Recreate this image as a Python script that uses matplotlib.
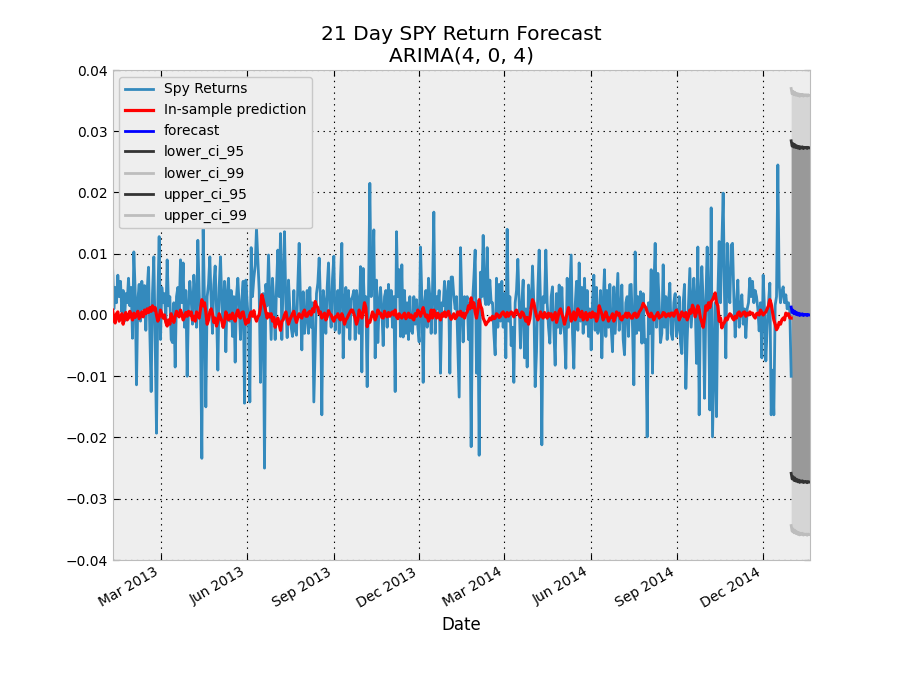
import numpy as np
import pandas as pd
import matplotlib
matplotlib.use('Agg')
import matplotlib.pyplot as plt
import matplotlib.dates as mdates

# daily SPY returns, in basis points (1e-4)
returns_bp = [
    82, 10, 45, 20, 65, 30, 55, 5, 40, -10, 35, 20, 60, 15, 45,
    -38, 103, 40, -114, 25, 50, -10, 55, 10, 48, -25, 40, 78, -30, -125,
    35, 95, -40, -193, 25, 128, -40, 45, 20, 35, -10, 90, 15, 30, -40,
    -45, 20, -85, 30, 45, 5, 90, 20, 85, -20, 40, -100, 15, 55, 25,
    -15, 65, 30, -20, 122, 40, -30, -234, 140, 20, -150, 30, 50, 95, 20,
    -30, 50, 80, 10, -90, 45, 95, 20, -20, 55, -60, 35, 60, -10, 40,
    -35, 30, -77, 30, 60, 15, -40, 25, 55, -144, 57, 20, -10, -142, 110,
    30, 60, 80, 142, 90, 40, -110, 20, 35, -250, 50, 15, 98, 30, -40,
    60, 20, -40, 45, 106, 30, 133, -40, 60, 136, 20, -37, 57, 10, -20,
    -35, 40, -25, -33, 50, 117, 20, -57, 38, -30, -5, 40, -30, 45, -20,
    20, -142, -57, 35, 52, 93, 20, -163, 40, 20, -30, 45, 85, 10, -20,
    60, 96, -25, 10, 40, -30, 60, 117, -70, 20, 45, -20, 40, -40, 25,
    30, 40, -40, 40, 20, -30, 79, -93, 76, 10, 30, -117, 30, 215, 30,
    60, 139, -70, 57, -45, 20, 45, 10, -50, 30, 40, -20, 50, 0, 40,
    -20, 30, -125, 136, 30, 74, -35, 82, -36, 40, -30, 20, -40, 30, -25,
    -30, 30, -15, 25, -20, -44, 111, 30, -110, 20, 40, -20, 60, 30, -30,
    40, 168, -30, 30, 10, 40, -95, 20, 15, 55, 0, 30, 55, -95, 62,
    62, 30, 10, 30, -50, -134, 110, 20, -44, 30, 10, 30, -40, 20, -215,
    20, 60, 106, -95, 20, -229, 70, 30, 130, 30, 17, 110, 17, 57, 20,
    20, -30, -65, 60, -20, 50, -10, 55, -20, 35, -70, 140, -10, 30, -50,
    -20, -110, 20, 40, 91, 20, -54, 20, 57, -70, 10, -85, 49, 20, 10,
    80, 20, -117, -60, 40, 106, 20, -212, 30, 20, 106, 20, -20, -46, 30,
    46, -25, -82, 35, -20, 49, -30, 45, -15, -30, -87, 60, -20, 40, 98,
    -30, -87, 15, 55, -25, 85, -10, 45, -30, 60, -15, 40, -35, 10, -57,
    20, 65, -25, 45, -30, -20, 40, -70, 20, 74, -35, 40, -20, 50, -20,
    -60, 46, -30, 20, 68, -25, 1, 49, -40, -65, 20, 30, -35, 49, 50,
    -20, -114, 103, -30, 30, -25, 38, -46, 35, -45, -40, -199, 20, -30, 74,
    -95, 40, 117, -20, 68, 20, -45, -30, 82, -20, 30, -40, 20, 52, -30,
    -40, 20, 35, -35, -20, 30, -45, -63, 20, 50, -120, -40, 20, 76, -20,
    20, 60, 20, -79, 111, -163, 30, 79, 20, -136, 20, 111, 20, -155, 175,
    -199, -90, 20, -166, 30, 120, 20, 115, 199, 30, -70, 117, 40, 20, 114,
    117, 30, -36, 20, 57, -20, 10, 33, -15, 10, -37, 10, 20, 60, 30,
    55, 20, 40, 30, 10, -26, 20, -70, 65, 10, -75, -20, 20, 52, -163,
    -90, -163, 16, 30, 245, 50, 20, 38, 46, 20, 33, 10, 20, 5, -100,
]

# in-sample ARIMA prediction, basis points
pred_bp = [
    8, -5, -13, 2, 5, -10, -4, 2, -15, -3, 4, -8, -5, 6, -2, -8, 3, -4, 0, 6, -6, -2, 5, -3, 8, 2, 10, 4, 12, 6,
    15, 8, 12, 0, -10, -4, 8, 2, -5, 0, -12, -18, -8, -15, 2, -6, -12, -2, 6, 0, -3, 8, 2, -8, -3, 4, -2, 6, 0, 5,
    -8, -2, -10, 5, 0, -5, 10, 25, 15, 20, 5, -15, -8, 5, 10, 2, -12, -5, -18, -10, 2, -4, -10, -20, -12, 5, -2, -8, 0, -6,
    3, -5, -10, 2, 8, -2, -5, 4, 5, -6, -15, -8, -12, 0, 5, -2, 7, -4, -10, -3, 0, 12, 33, 25, 15, 5, -5, 2, -3, 2,
    -10, -4, -20, -12, -5, -15, -25, -10, -8, 0, 5, -6, -15, -8, -3, 2, 6, -5, -12, -4, 2, -3, -5, 4, 8, -2, -2, 4, 6, 0,
    10, 5, 22, 15, 12, 2, 5, -5, -2, 3, -8, -3, 7, 2, 0, -6, -10, -3, -3, 2, -5, -8, 2, -4, -15, -8, -5, 0, 4, 8,
    8, 2, -5, -15, -8, 8, 2, -5, 5, 20, 12, -19, -10, -12, -4, 5, 0, -8, -2, 8, 3, 3, -4, -5, 6, 0, -3, 4, -2, 3,
    5, 0, 8, -3, -6, 2, -2, -5, 0, 3, -6, -2, 3, -4, 0, -5, -8, 2, -2, 8, 4, -2, 5, 12, 3, -3, 0, -10, -4, 8,
    -5, 8, 2, -5, 3, -3, -8, 2, -2, 5, -3, 3, 6, -2, -7, -2, 2, -6, -3, 5, 0, 6, -2, 3, -5, 2, 5, 15, 10, 28,
    12, 20, 5, -5, 8, 25, 15, 10, -5, -10, -16, -12, -10, -5, -8, -2, -6, -5, 2, 0, -4, -2, 3, 5, 0, -3, 4, -2, 2, 5,
    2, -3, 5, 8, 2, 0, -4, 5, 3, -3, -10, -4, -15, -6, 12, 25, 20, 8, -2, -8, -3, 5, -2, -5, 4, 0, -5, 3, -2, 2,
    -8, -2, 4, -12, -4, 6, 10, 2, -5, -15, -6, 3, 12, 4, -10, -3, 5, -8, -2, 10, 3, -3, 6, -8, -2, 4, -8, 0, 3, -4,
    5, -3, 2, -10, -4, 15, 8, 2, -8, -3, 5, -2, -10, -5, -3, 2, -10, -4, 5, 0, 3, -6, -8, -2, -3, 3, -4, 3, 0, -5,
    -5, 2, 3, -4, -2, 5, 8, 12, 19, 15, 12, 5, 0, -3, 3, -2, -8, -3, 0, 4, -5, -2, -2, 4, 3, -3, 0, 2, -2, 3,
    3, -2, 5, 8, 2, -8, -3, 5, 0, -3, 4, -8, -2, 8, 3, 16, 10, -3, 4, 15, 8, -5, -12, -20, -5, 15, 8, 20, 12, 22,
    25, 30, 36, 20, 15, -10, -5, -21, -15, -12, -5, -8, -2, 2, 0, -5, -8, -2, -5, 3, 5, -2, 0, 4, 5, -2, 3, 0, 5, 2,
    3, -2, -5, 2, 3, 0, 8, 4, 0, 3, 5, 10, 15, 25, 18, 5, -8, -15, -24, -20, -12, -15, -8, -5, -8, 3, 0, 2, -5, -5,
]

# 21 day forecast and its standard error, basis points
forecast_bp = [13, 4, 8, 2, 6, 1, 4, 0, 3, -1, 2, 0, 2, -1, 1, 0, 1, -1, 1, 0, 0]
stderr_bp = [138.5, 138.6, 138.7, 138.8, 138.8, 138.9, 138.9, 139.0, 139.0, 139.0,
             139.1, 139.1, 139.1, 139.1, 139.2, 139.2, 139.2, 139.2, 139.2, 139.2, 139.2]

returns = np.array(returns_bp) / 1e4
pred = np.array(pred_bp) / 1e4
forecast = np.array(forecast_bp) / 1e4
stderr = np.array(stderr_bp) / 1e4

lower_95 = forecast - 1.96 * stderr
upper_95 = forecast + 1.96 * stderr
lower_99 = forecast - 2.576 * stderr
upper_99 = forecast + 2.576 * stderr

dates = pd.date_range('2013-01-09', '2014-12-31', periods=len(returns))
pred_dates = pd.date_range('2013-01-09', '2014-12-31', periods=len(pred))
fc_dates = pd.date_range('2014-12-31', periods=len(forecast), freq='D')

plt.rcParams['font.family'] = 'DejaVu Sans'
plt.rcParams['font.size'] = 10

fig, ax = plt.subplots(figsize=(9, 7), dpi=100)
ax.set_facecolor('#eeeeee')
for s in ax.spines.values():
    s.set_color('#bcbcbc')

ax.fill_between(fc_dates, lower_99, upper_99, color='#d5d5d5', lw=0, zorder=1)
ax.fill_between(fc_dates, lower_95, upper_95, color='#999999', lw=0, zorder=1)

ax.plot(dates, returns, color='#348ABD', lw=2, label='Spy Returns', zorder=2)
ax.plot(pred_dates, pred, color='red', lw=2.3, label='In-sample prediction', zorder=3)
ax.plot(fc_dates, forecast, color='blue', lw=2, label='forecast', zorder=3)
ax.plot(fc_dates, lower_95, color='#333333', lw=2, label='lower_ci_95', zorder=3)
ax.plot(fc_dates, lower_99, color='#bdbdbd', lw=2, label='lower_ci_99', zorder=3)
ax.plot(fc_dates, upper_95, color='#333333', lw=2, label='upper_ci_95', zorder=3)
ax.plot(fc_dates, upper_99, color='#bdbdbd', lw=2, label='upper_ci_99', zorder=3)

ax.set_xlim(dates[0], fc_dates[-1])
ax.set_ylim(-0.04, 0.04)
ax.set_yticks(np.arange(-0.04, 0.041, 0.01))
ax.yaxis.set_major_formatter(plt.FuncFormatter(
    lambda v, p: ('%.2f' % (0.0 if abs(v) < 1e-9 else v)).replace('-', '\u2212')))
ax.xaxis.set_major_locator(mdates.MonthLocator(bymonth=[3, 6, 9, 12]))
ax.xaxis.set_major_formatter(mdates.DateFormatter('%b %Y'))

ax.set_axisbelow(True)
ax.grid(True, color='black', linestyle=(0, (1.25, 4)), linewidth=0.8)
ax.tick_params(direction='in', top=True, right=True, length=4, width=0.8)

ax.set_title('21 Day SPY Return Forecast\nARIMA(4, 0, 4)', fontsize=14.5)
ax.set_xlabel('Date', fontsize=12)

leg = ax.legend(loc='upper left', fontsize=10, fancybox=True, framealpha=1,
                handlelength=2, borderaxespad=0.5)
leg.get_frame().set_facecolor('#eeeeee')
leg.get_frame().set_edgecolor('#c8c8c8')

fig.autofmt_xdate()
fig.subplots_adjust(left=0.125, right=0.9, top=0.9, bottom=0.2)

fig.savefig('out.png', dpi=100)
